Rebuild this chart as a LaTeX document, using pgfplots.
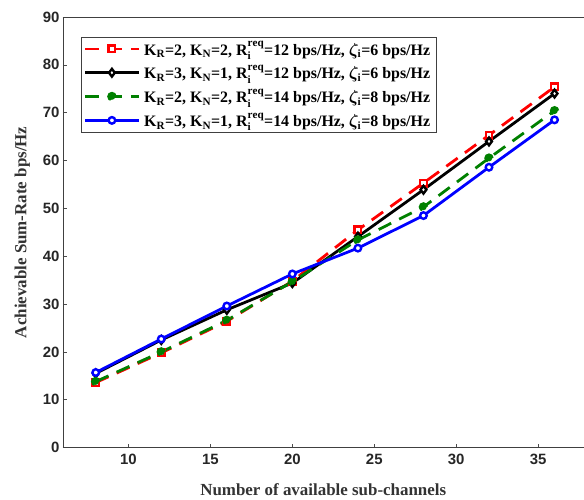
\documentclass[border=0pt]{standalone}
\usepackage{amsmath}
\usepackage{bm}
\usepackage{fontspec}
\setmainfont{Liberation Serif}
\newfontfamily\tickfont{Liberation Sans}
\usepackage{pgfplots}
\pgfplotsset{compat=1.18}
\definecolor{mred}{RGB}{255,0,0}
\definecolor{mgreen}{RGB}{0,128,0}
\definecolor{mblue}{RGB}{0,0,255}
\begin{document}
\begin{tikzpicture}
\begin{axis}[
  scale only axis,
  width=521bp, height=431bp,
  xmin=6, xmax=37.77, ymin=0, ymax=90,
  axis x line=box, axis y line=left,
  axis line style={line width=0.9pt, draw=black!75, -},
  xtick={10,15,20,25,30,35},
  ytick={0,10,...,90},
  xtick pos=bottom, ytick pos=left,
  tick align=inside,
  major tick length=4bp,
  tick style={line width=0.6pt, black!70},
  /pgf/number format/assume math mode=true,
  ticklabel style={font=\tickfont\bfseries\fontsize{15}{18}\selectfont, text=black!85},
  xticklabel style={yshift=-3bp},
  xlabel={Number of available sub-channels},
  ylabel={Achievable Sum-Rate bps/Hz},
  label style={font=\bfseries\fontsize{17}{20}\selectfont, text=black!80},
  xlabel style={yshift=-12bp},
  ylabel style={yshift=6bp},
  legend cell align=left,
  legend style={at={(0.035,0.954)}, anchor=north west,
    draw=black!75, line width=0.9pt,
    font=\bfseries\boldmath\fontsize{16}{18}\selectfont,
    row sep=4.5bp, inner sep=2bp, nodes={inner xsep=4bp}},
  legend image code/.code={\draw[mark repeat=2,mark phase=2] plot coordinates {(0cm,0cm) (0.95cm,0cm) (1.9cm,0cm)};},
  every axis plot/.append style={line width=2.8pt, mark size=3.3pt, mark options={solid, line width=2.4pt, fill=white}},
]
\addplot[color=mred, dash pattern=on 14bp off 9bp, mark=square*] coordinates {
  (8,13.6) (12,19.8) (16,26.4) (20,34.8) (24,45.5) (28,55.3) (32,65.3) (36,75.4)};
\addlegendentry{K$_{\mathrm{R}}$=2, K$_{\mathrm{N}}$=2, R$_{\mathrm{i}}^{\mathrm{req}}$=12 bps/Hz, $\bm{\zeta}_{\mathrm{i}}$=6 bps/Hz}
\addplot[color=black, solid, mark=diamond*, mark size=3.9pt] coordinates {
  (8,15.5) (12,22.5) (16,28.8) (20,34.4) (24,44.1) (28,53.9) (32,64.0) (36,74.0)};
\addlegendentry{K$_{\mathrm{R}}$=3, K$_{\mathrm{N}}$=1, R$_{\mathrm{i}}^{\mathrm{req}}$=12 bps/Hz, $\bm{\zeta}_{\mathrm{i}}$=6 bps/Hz}
\addplot[color=mgreen, dash pattern=on 14bp off 9bp, mark=*, mark options={fill=mgreen}] coordinates {
  (8,13.8) (12,20.0) (16,26.6) (20,34.7) (24,43.4) (28,50.3) (32,60.5) (36,70.4)};
\addlegendentry{K$_{\mathrm{R}}$=2, K$_{\mathrm{N}}$=2, R$_{\mathrm{i}}^{\mathrm{req}}$=14 bps/Hz, $\bm{\zeta}_{\mathrm{i}}$=8 bps/Hz}
\addplot[color=mblue, solid, mark=*] coordinates {
  (8,15.7) (12,22.7) (16,29.6) (20,36.3) (24,41.7) (28,48.5) (32,58.6) (36,68.5)};
\addlegendentry{K$_{\mathrm{R}}$=3, K$_{\mathrm{N}}$=1, R$_{\mathrm{i}}^{\mathrm{req}}$=14 bps/Hz, $\bm{\zeta}_{\mathrm{i}}$=8 bps/Hz}
\end{axis}
\path[use as bounding box] ([xshift=-63bp,yshift=-51bp]current axis.south west) rectangle ([yshift=17bp]current axis.north east);
\end{tikzpicture}
\end{document}
